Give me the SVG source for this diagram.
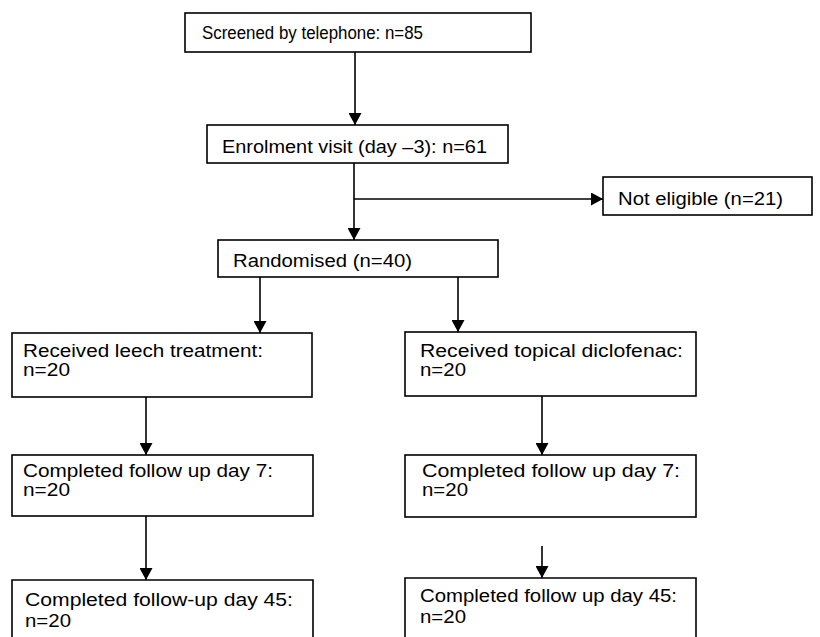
<svg xmlns="http://www.w3.org/2000/svg" width="820" height="637" viewBox="0 0 820 637">
<style>
.box{fill:#fff;stroke:#000;stroke-width:1.6}
.open{fill:none;stroke:#000;stroke-width:1.6}
.t{font-family:"Liberation Sans",Arial,sans-serif;font-size:17.5px;fill:#000}
.c{stroke:#000;stroke-width:1.6;fill:none;marker-end:url(#ah)}
</style>
<defs>
<marker id="ah" markerUnits="userSpaceOnUse" markerWidth="13" markerHeight="13" refX="12" refY="6.5" orient="auto">
<path d="M0,0 L12,6.5 L0,13 z" fill="#000"/>
</marker>
</defs>
<rect width="820" height="637" fill="#fff"/>
<g id="connectors">
<line class="c" x1="355" y1="52" x2="355" y2="125"/>
<line class="c" x1="354" y1="163" x2="354" y2="240"/>
<line class="c" x1="354" y1="199" x2="603" y2="199"/>
<line class="c" x1="260" y1="277" x2="260" y2="333"/>
<line class="c" x1="458" y1="277" x2="458" y2="332"/>
<line class="c" x1="146" y1="397" x2="146" y2="455"/>
<line class="c" x1="542" y1="396" x2="542" y2="455"/>
<line class="c" x1="146" y1="516" x2="146" y2="580"/>
<line class="c" x1="542" y1="546" x2="542" y2="578"/>
</g>
<g id="screened">
<rect class="box" x="185" y="13" width="346" height="39"/>
<text class="t" x="202" y="39" textLength="221" lengthAdjust="spacingAndGlyphs">Screened by telephone: n=85</text>
</g>
<g id="enrolment">
<rect class="box" x="207" y="125" width="301" height="38"/>
<text class="t" x="222" y="153" textLength="265" lengthAdjust="spacingAndGlyphs">Enrolment visit (day –3): n=61</text>
</g>
<g id="not-eligible">
<rect class="box" x="603" y="177" width="209" height="38"/>
<text class="t" x="618" y="205" textLength="165" lengthAdjust="spacingAndGlyphs">Not eligible (n=21)</text>
</g>
<g id="randomised">
<rect class="box" x="218" y="240" width="280" height="37"/>
<text class="t" x="233" y="267" textLength="179" lengthAdjust="spacingAndGlyphs">Randomised (n=40)</text>
</g>
<g id="leech">
<rect class="box" x="12" y="333" width="300" height="64"/>
<text class="t" x="23" y="357" textLength="240" lengthAdjust="spacingAndGlyphs">Received leech treatment:</text>
<text class="t" x="23" y="376" textLength="47" lengthAdjust="spacingAndGlyphs">n=20</text>
</g>
<g id="diclofenac">
<rect class="box" x="405" y="332" width="291" height="64"/>
<text class="t" x="420" y="357" textLength="263" lengthAdjust="spacingAndGlyphs">Received topical diclofenac:</text>
<text class="t" x="420" y="376" textLength="46" lengthAdjust="spacingAndGlyphs">n=20</text>
</g>
<g id="leech-day7">
<rect class="box" x="12" y="455" width="301" height="61"/>
<text class="t" x="23" y="477" textLength="250" lengthAdjust="spacingAndGlyphs">Completed follow up day 7:</text>
<text class="t" x="23" y="496" textLength="47" lengthAdjust="spacingAndGlyphs">n=20</text>
</g>
<g id="diclofenac-day7">
<rect class="box" x="405" y="455" width="291" height="62"/>
<text class="t" x="422" y="477" textLength="258" lengthAdjust="spacingAndGlyphs">Completed follow up day 7:</text>
<text class="t" x="422" y="496" textLength="46" lengthAdjust="spacingAndGlyphs">n=20</text>
</g>
<g id="leech-day45">
<path class="open" d="M12,640 V580 H313 V640"/>
<text class="t" x="25" y="606" textLength="268" lengthAdjust="spacingAndGlyphs">Completed follow-up day 45:</text>
<text class="t" x="25" y="627" textLength="46" lengthAdjust="spacingAndGlyphs">n=20</text>
</g>
<g id="diclofenac-day45">
<path class="open" d="M405,640 V578 H696 V640"/>
<text class="t" x="420" y="602" textLength="257" lengthAdjust="spacingAndGlyphs">Completed follow up day 45:</text>
<text class="t" x="420" y="623" textLength="46" lengthAdjust="spacingAndGlyphs">n=20</text>
</g>
</svg>
